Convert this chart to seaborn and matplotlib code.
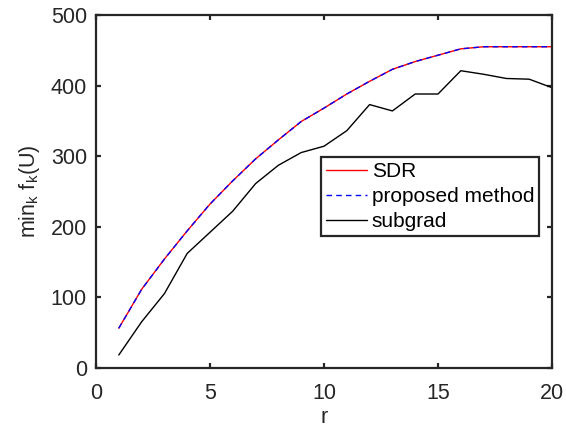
import numpy as np
import pandas as pd
import matplotlib
matplotlib.use("Agg")
import matplotlib.pyplot as plt
import seaborn as sns

r = list(range(1, 21))
sdr = [56, 111, 154, 194, 232, 265, 296, 323, 349, 368, 388, 406, 423, 434, 443, 452, 455, 455, 455, 455]
proposed = [56, 111, 154, 194, 232, 265, 296, 323, 349, 368, 388, 406, 423, 434, 443, 452, 455, 455, 455, 455]
subgrad = [18, 65, 105, 162, 192, 222, 261, 287, 305, 314, 336, 373, 364, 388, 388, 421, 416, 410, 409, 397]
labels = ["SDR", "proposed method", "subgrad"]

sns.set_style("white")
plt.rcParams['font.family'] = ['Liberation Sans', 'DejaVu Sans']
plt.rcParams['mathtext.fontset'] = 'custom'
plt.rcParams['mathtext.rm'] = 'Liberation Sans'
plt.rcParams['mathtext.it'] = 'Liberation Sans'

df = pd.DataFrame({"r": r * 3,
                   "val": sdr + proposed + subgrad,
                   "method": [labels[0]] * 20 + [labels[1]] * 20 + [labels[2]] * 20})

fig = plt.figure(figsize=(5.66, 4.29), dpi=100)
ax = fig.add_axes([96 / 566, 1 - 367.7 / 429, (552 - 96) / 566, (367.7 - 15) / 429])

sns.lineplot(data=df, x="r", y="val", hue="method", style="method",
             palette={labels[0]: "#ff0000", labels[1]: "#0000ff", labels[2]: "#000000"},
             dashes={labels[0]: "", labels[1]: (4, 3), labels[2]: ""},
             linewidth=1.0, ax=ax, legend=True)

ax.set_xlim(0, 20)
ax.set_ylim(0, 500)
ax.set_xticks([0, 5, 10, 15, 20])
ax.set_yticks([0, 100, 200, 300, 400, 500])
tc = "#262626"
for s in ax.spines.values():
    s.set_visible(True)
    s.set_color(tc)
    s.set_linewidth(1.6)
ax.tick_params(direction="in", length=3.5, width=1.6, colors=tc, labelcolor=tc,
               labelsize=15.5, top=True, right=True, bottom=True, left=True)
ax.tick_params(axis="x", pad=11)
ax.tick_params(axis="y", pad=6.5)
ax.set_xlabel("r", fontsize=15.5, color=tc, labelpad=2)
ax.set_ylabel(r"$\mathregular{min_k\ f_k(U)}$", fontsize=15.5, color=tc, labelpad=6)

handles, _ = ax.get_legend_handles_labels()
leg = ax.legend(handles=handles, labels=labels, loc="upper left",
                bbox_to_anchor=(0.493, 0.597), borderaxespad=0, fontsize=15,
                handlelength=2.0, handletextpad=0.22, borderpad=0.23, labelspacing=0.3,
                fancybox=False, frameon=True, framealpha=1)
leg.get_frame().set_edgecolor(tc)
leg.get_frame().set_linewidth(1.6)
for t in leg.get_texts():
    t.set_color("black")

fig.savefig("out.png", dpi=100)
